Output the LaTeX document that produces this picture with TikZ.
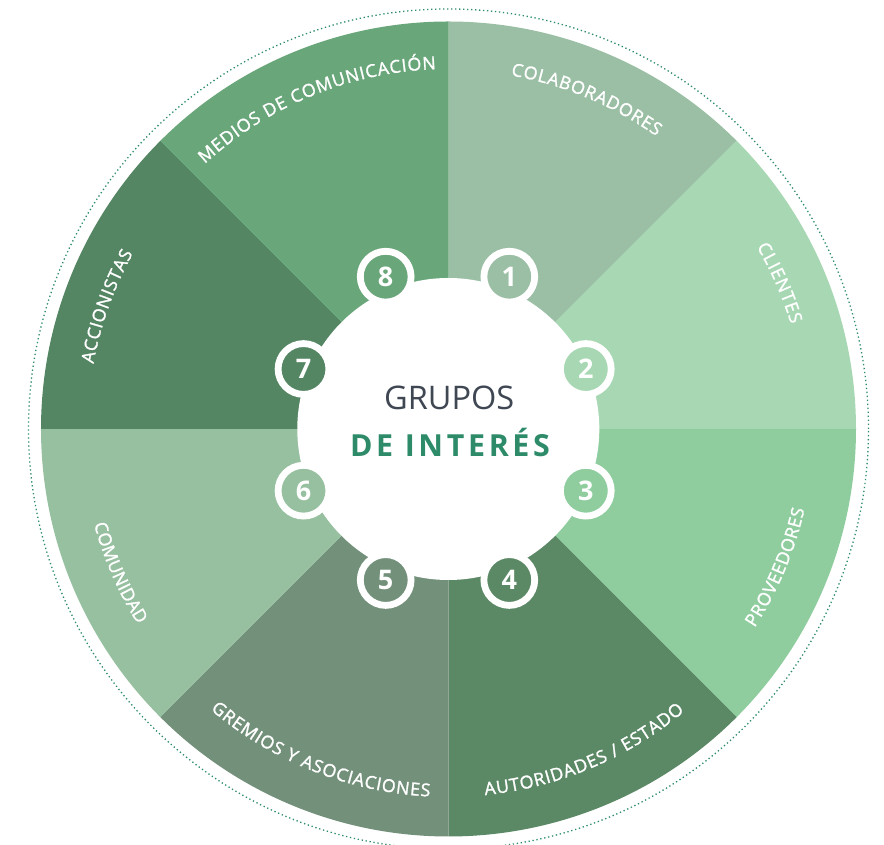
\documentclass[tikz,border=0pt]{standalone}
\usepackage{fontspec}
\setmainfont{Open Sans}
\newfontfamily\spacedfont[LetterSpace=12]{Open Sans}
\newfontfamily\labelfont[FakeBold=1.4]{Open Sans}
\usetikzlibrary{decorations.text}
\definecolor{cA}{HTML}{9BBFA5}
\definecolor{cB}{HTML}{A8D8B3}
\definecolor{cC}{HTML}{8FCD9F}
\definecolor{cD}{HTML}{5B8966}
\definecolor{cE}{HTML}{73917A}
\definecolor{cF}{HTML}{97C0A0}
\definecolor{cG}{HTML}{548663}
\definecolor{cH}{HTML}{69A67A}
\definecolor{dotc}{HTML}{2E8C6C}
\definecolor{titlegray}{HTML}{3F4753}
\definecolor{titlegreen}{HTML}{2E8B69}
\tikzset{
  numcirc/.style={circle, draw=white, line width=6.8pt, minimum size=50.8pt,
    inner sep=0pt, text=white, font=\fontsize{27}{30}\selectfont\bfseries},
  arclabel/.style={decorate, decoration={text along path, text align={fit to path},
    text={|\labelfont\fontsize{17.8}{20}\selectfont\color{white}|#1}}},
  hubstyle/.style={circle, fill=white, minimum size=302pt, inner sep=0pt},
  outerring/.style={draw=dotc, line width=1.3pt, dash pattern=on 1.3pt off 2.7pt},
}
\begin{document}
\begin{tikzpicture}[x=1pt,y=1pt]
\useasboundingbox (0,0) rectangle (884,845);
\coordinate (O) at (448.5,416);
% outer dotted ring
\draw[outerring] (O) circle[radius=420];
% sectors
\fill[cA] (O) -- ([shift={(90:407.5)}]O) arc[start angle=90, end angle=45, radius=407.5] -- cycle;
\fill[cB] (O) -- ([shift={(45:407.5)}]O) arc[start angle=45, end angle=0, radius=407.5] -- cycle;
\fill[cC] (O) -- ([shift={(0:407.5)}]O) arc[start angle=0, end angle=-45, radius=407.5] -- cycle;
\fill[cD] (O) -- ([shift={(-45:407.5)}]O) arc[start angle=-45, end angle=-90, radius=407.5] -- cycle;
\fill[cE] (O) -- ([shift={(-90:407.5)}]O) arc[start angle=-90, end angle=-135, radius=407.5] -- cycle;
\fill[cF] (O) -- ([shift={(-135:407.5)}]O) arc[start angle=-135, end angle=-180, radius=407.5] -- cycle;
\fill[cG] (O) -- ([shift={(180:407.5)}]O) arc[start angle=180, end angle=135, radius=407.5] -- cycle;
\fill[cH] (O) -- ([shift={(135:407.5)}]O) arc[start angle=135, end angle=90, radius=407.5] -- cycle;
% labels along arcs
\path[arclabel={COLABORADORES}] ([shift={(80:359)}]O) arc[start angle=80, end angle=54.6, radius=359];
\path[arclabel={CLIENTES}] ([shift={(30.6:358)}]O) arc[start angle=30.6, end angle=17, radius=358];
\path[arclabel={PROVEEDORES}] ([shift={(-33:365)}]O) arc[start angle=-33, end angle=-12.7, radius=365];
\path[arclabel={AUTORIDADES / ESTADO}] ([shift={(-84.3:368)}]O) arc[start angle=-84.3, end angle=-50.1, radius=368];
\path[arclabel={GREMIOS Y ASOCIACIONES}] ([shift={(-130.3:368)}]O) arc[start angle=-130.3, end angle=-92.9, radius=368];
\path[arclabel={COMUNIDAD}] ([shift={(-165:367)}]O) arc[start angle=-165, end angle=-147.8, radius=367];
\path[arclabel={ACCIONISTAS}] ([shift={(169.6:361)}]O) arc[start angle=169.6, end angle=150.9, radius=361];
\path[arclabel={MEDIOS DE COMUNICACIÓN}] ([shift={(132.6:360)}]O) arc[start angle=132.6, end angle=92, radius=360];
% hub
\node[hubstyle] (hub) at (448.3,416) {};
\node[anchor=base, text=titlegray, font=\fontsize{32.5}{36}\selectfont] (grupos) at (449.2,435) {GRUPOS};
\node[anchor=base, text=titlegreen, font=\fontsize{30.4}{36}\selectfont\spacedfont\bfseries] (interes) at (450,388.3) {DE INTERÉS};
% number circles
\node[numcirc, fill=cA] (n1) at (509.3,568.3) {1};
\node[numcirc, fill=cB] (n2) at (585.8,476) {2};
\node[numcirc, fill=cC] (n3) at (585.8,354.3) {3};
\node[numcirc, fill=cD] (n4) at (509.3,265) {4};
\node[numcirc, fill=cE] (n5) at (385.7,265) {5};
\node[numcirc, fill=cF] (n6) at (303.5,354.3) {6};
\node[numcirc, fill=cG] (n7) at (303.5,476) {7};
\node[numcirc, fill=cH] (n8) at (385.7,568.3) {8};
\end{tikzpicture}
\end{document}
